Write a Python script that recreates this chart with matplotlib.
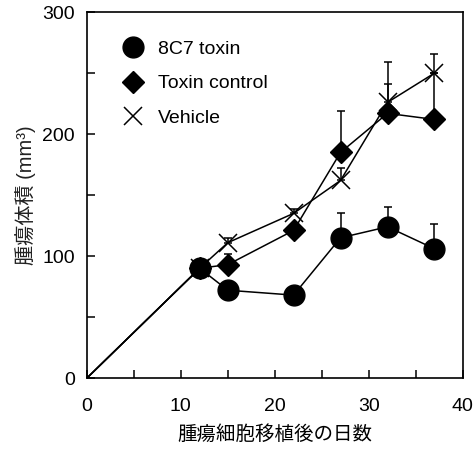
import numpy as np
import matplotlib.pyplot as plt
from matplotlib.lines import Line2D
from matplotlib.ticker import MultipleLocator

plt.rcParams['font.family'] = ['Liberation Sans', 'Noto Sans CJK JP', 'DejaVu Sans']

days = [0, 12, 15, 22, 27, 32, 37]
toxin_8c7 = [0, 90, 72, 68, 115, 124, 106]
toxin_8c7_err = [0, 0, 0, 0, 20, 16, 20]
toxin_ctrl = [0, 90, 93, 121, 185, 217, 212]
toxin_ctrl_err = [0, 0, 9, 0, 34, 42, 54]
vehicle = [0, 90, 111, 135, 162, 226, 250]
vehicle_err = [0, 0, 4, 3.5, 10, 15, 0]
labels = ['8C7 toxin', 'Toxin control', 'Vehicle']

fig = plt.figure(figsize=(4.75, 4.49), dpi=100)
ax = fig.add_axes([0.183, 0.158, 0.791, 0.815])

lw = 1.1
series = [
    (vehicle, vehicle_err, dict(marker='x', ms=13, mew=1.1, mfc='none')),
    (toxin_ctrl, toxin_ctrl_err, dict(marker='D', ms=11.5)),
    (toxin_8c7, toxin_8c7_err, dict(marker='o', ms=15)),
]
for y, e, mk in series:
    e = np.array(e)
    ax.errorbar(days[1:], y[1:], yerr=[np.zeros(len(e) - 1), e[1:]], fmt='none',
                ecolor='black', elinewidth=lw, capsize=3, capthick=lw, zorder=2)
    ax.plot(days, y, color='black', lw=lw, zorder=3)
    ax.plot(days[1:], y[1:], ls='none', color='black', mec='black', zorder=4, **mk)

handles = [
    Line2D([], [], ls='none', marker='o', ms=15, color='black'),
    Line2D([], [], ls='none', marker='D', ms=11.5, color='black'),
    Line2D([], [], ls='none', marker='x', ms=13, mew=1.1, color='black'),
]
ax.legend(handles, labels, loc='upper left', frameon=False, fontsize=14,
          handlelength=1.5, handletextpad=0.54, labelspacing=0.86,
          borderaxespad=0, bbox_to_anchor=(0.063, 0.944))

ax.set_xlim(0, 40)
ax.set_ylim(0, 300)
ax.xaxis.set_major_locator(MultipleLocator(10))
ax.xaxis.set_minor_locator(MultipleLocator(5))
ax.yaxis.set_major_locator(MultipleLocator(100))
ax.yaxis.set_minor_locator(MultipleLocator(50))
ax.tick_params(which='both', direction='in', length=6, width=1.1, labelsize=14,
               top=False, right=False)
ax.tick_params(axis='x', pad=14)
ax.tick_params(axis='y', pad=8.5)
for s in ax.spines.values():
    s.set_linewidth(1.2)

ax.set_xlabel('腫瘍細胞移植後の日数', fontsize=14, labelpad=8)
ax.set_ylabel('腫瘍体積 (mm³)', fontsize=14.5, labelpad=5, color='#222222')

fig.savefig('out.png', dpi=100)
